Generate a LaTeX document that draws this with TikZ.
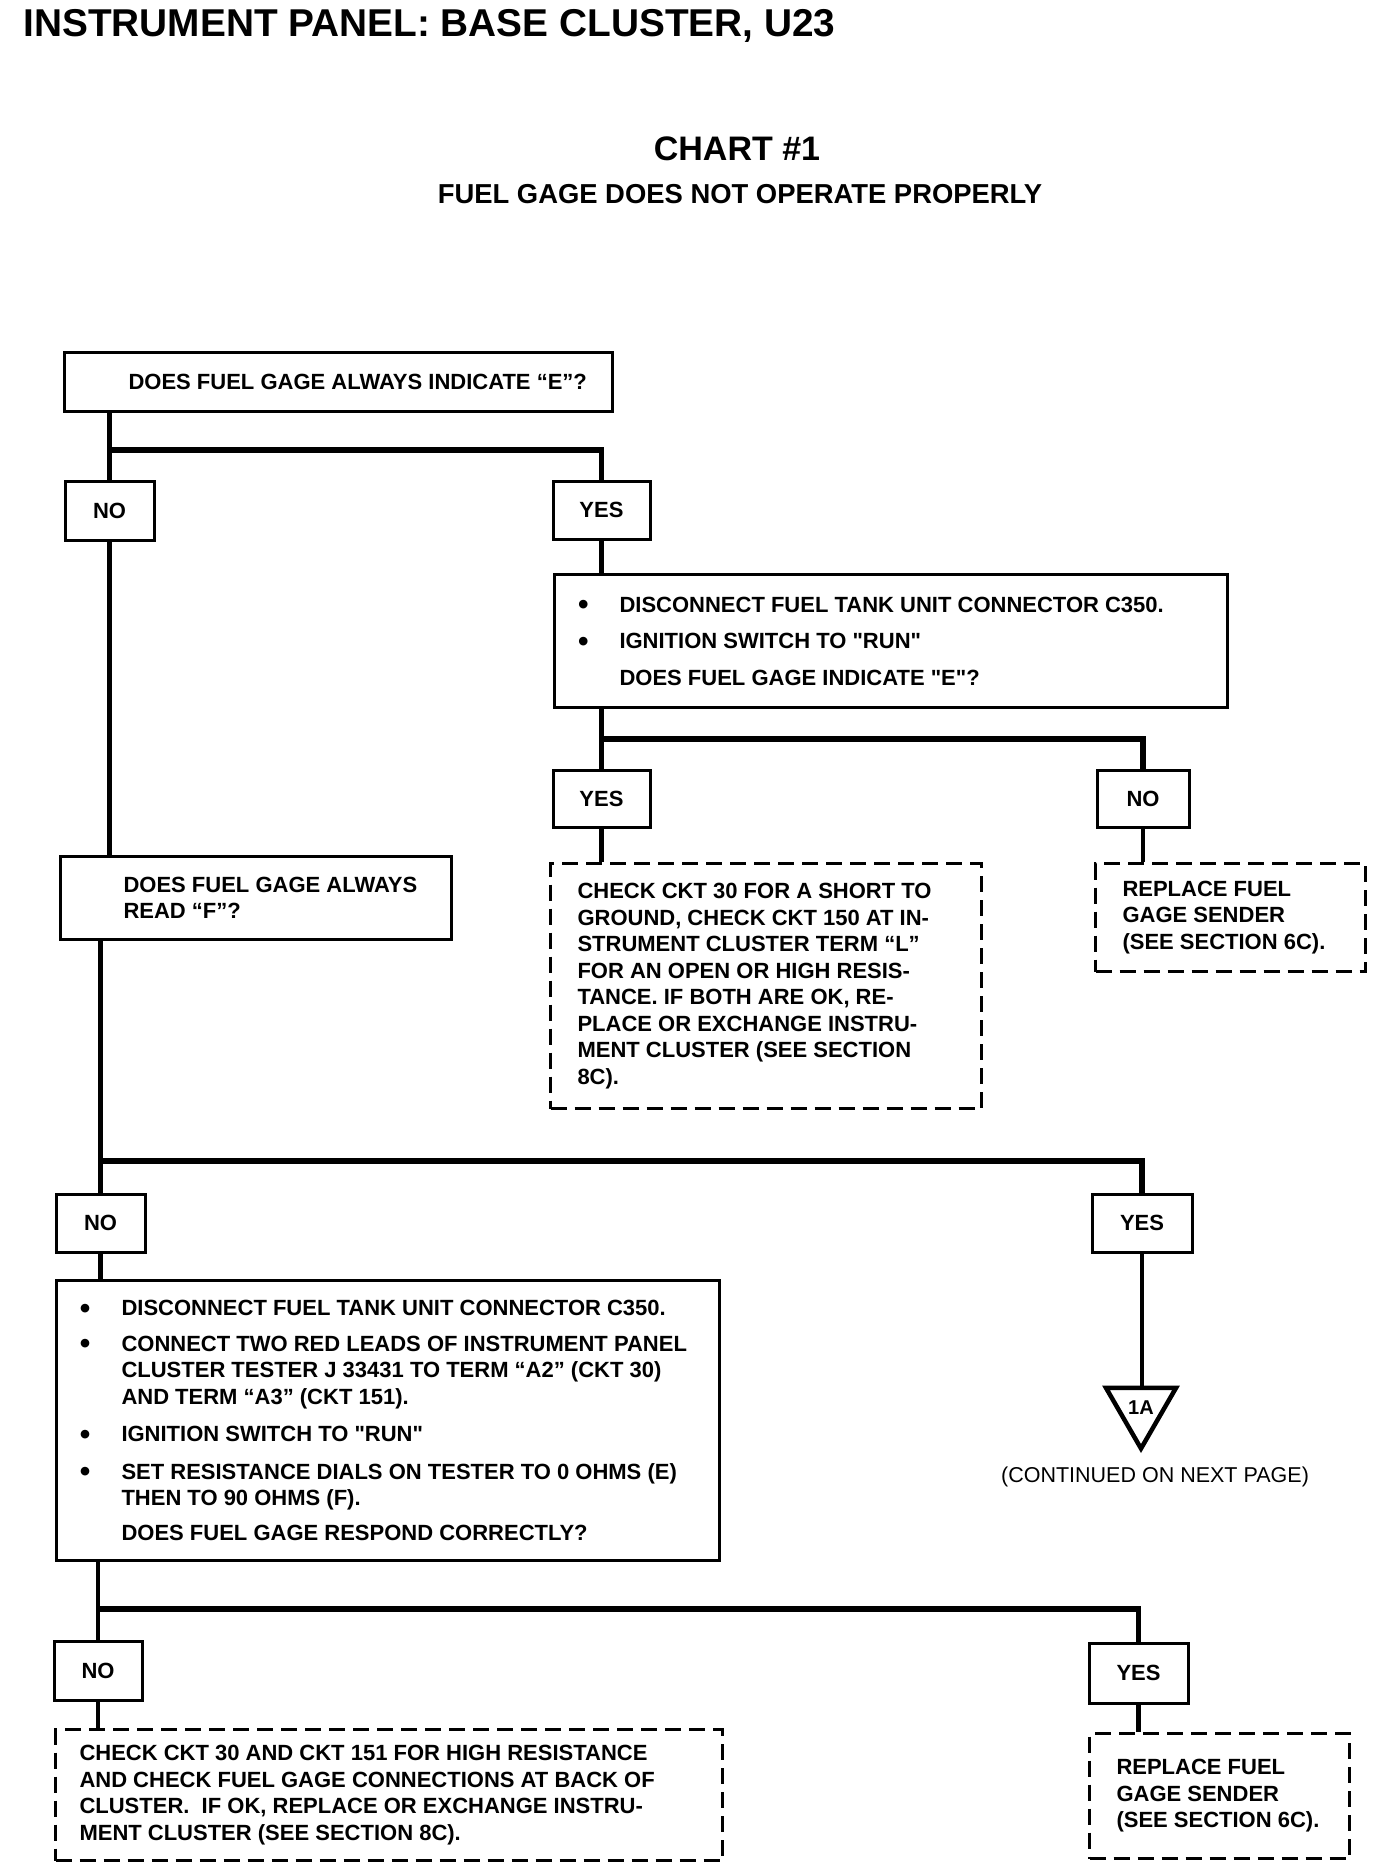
\documentclass[tikz,border=0pt]{standalone}
\usepackage{fontspec}
\setmainfont[Ligatures=TeXOff]{Liberation Sans}
\usetikzlibrary{shapes.geometric}

\newcommand{\boxlines}[3]{\parbox{#1pt}{\raggedright\leftskip=#2pt\relax #3}}
\newcommand{\bul}{\leavevmode\llap{\raisebox{-2.5pt}{\fontsize{30}{0}\selectfont\textbullet}\hspace{31pt}}}

\begin{document}
\begin{tikzpicture}[x=1pt,y=-1pt,
    every node/.style={font=\bfseries\fontsize{22}{26.5}\selectfont},
    qbox/.style={draw,line width=3pt,inner sep=0pt,anchor=north west},
    dbox/.style={qbox,dash pattern=on 16pt off 8pt},
    ans/.style={draw,line width=3pt,inner sep=0pt},
    trunk/.style={line width=4.5pt},
    bar/.style={line width=5.5pt}]

      \useasboundingbox (0,0) rectangle (1376,1870);
      \fill[white] (0,0) rectangle (1376,1870);

      \node[anchor=base west,font=\bfseries\fontsize{38.8}{44}\selectfont] (title) at (20,37)
        {INSTRUMENT PANEL: BASE CLUSTER, U23};
      \node[anchor=base,font=\bfseries\fontsize{34}{40}\selectfont] (chart) at (737,161) {CHART \#1};
      \node[anchor=base,font=\bfseries\fontsize{27.4}{32}\selectfont] (subtitle) at (740,204)
        {FUEL GAGE DOES NOT OPERATE PROPERLY};

      \node[qbox,minimum height=59pt] (q1) at (63,351)
        {\boxlines{548}{64}{DOES FUEL GAGE ALWAYS INDICATE “E”?}};
      \node[qbox,minimum height=83pt] (q2) at (59,855)
        {\boxlines{391}{63}{DOES FUEL GAGE ALWAYS\\READ “F”?}};
      \node[qbox,minimum height=133pt] (q3) at (553,573)
        {\boxlines{673}{65}{\bul DISCONNECT FUEL TANK UNIT CONNECTOR C350.\\[10pt]
          \bul IGNITION SWITCH TO "RUN"\\[10pt]
          DOES FUEL GAGE INDICATE "E"?}};
      \node[qbox,minimum height=280pt] (q4) at (55,1279)
        {\boxlines{663}{65}{\bul DISCONNECT FUEL TANK UNIT CONNECTOR C350.\\[9pt]
          \bul CONNECT TWO RED LEADS OF INSTRUMENT PANEL\\
          CLUSTER TESTER J 33431 TO TERM “A2” (CKT 30)\\
          AND TERM “A3” (CKT 151).\\[11pt]
          \bul IGNITION SWITCH TO "RUN"\\[11pt]
          \bul SET RESISTANCE DIALS ON TESTER TO 0 OHMS (E)\\
          THEN TO 90 OHMS (F).\\[8pt]
          DOES FUEL GAGE RESPOND CORRECTLY?}};

      \node[dbox,minimum height=245pt] (d1) at (549,862)
        {\boxlines{431}{27}{CHECK CKT 30 FOR A SHORT TO\\GROUND, CHECK CKT 150 AT IN-\\
          STRUMENT CLUSTER TERM “L”\\FOR AN OPEN OR HIGH RESIS-\\TANCE. IF BOTH ARE OK, RE-\\
          PLACE OR EXCHANGE INSTRU-\\MENT CLUSTER (SEE SECTION\\8C).}};
      \node[dbox,minimum height=108pt] (d2) at (1094,862)
        {\boxlines{270}{27}{REPLACE FUEL\\GAGE SENDER\\(SEE SECTION 6C).}};
      \node[dbox,minimum height=131pt] (d3) at (54,1728)
        {\boxlines{667}{24}{CHECK CKT 30 AND CKT 151 FOR HIGH RESISTANCE\\
          AND CHECK FUEL GAGE CONNECTIONS AT BACK OF\\
          CLUSTER.\ \ IF OK, REPLACE OR EXCHANGE INSTRU-\\MENT CLUSTER (SEE SECTION 8C).}};
      \node[dbox,minimum height=125pt] (d4) at (1088,1732)
        {\boxlines{260}{27}{REPLACE FUEL\\GAGE SENDER\\(SEE SECTION 6C).}};

      \begin{scope}[every node/.append style={ans}]
        \node[minimum width=89pt,minimum height=59pt]  (no1)  at (109.5,510.5) {NO};
        \node[minimum width=97pt,minimum height=58pt]  (yes1) at (601.5,510)   {YES};
        \node[minimum width=97pt,minimum height=57pt]  (yes2) at (601.5,798.5) {YES};
        \node[minimum width=92pt,minimum height=57pt]  (no2)  at (1143,798.5)  {NO};
        \node[minimum width=89pt,minimum height=58pt]  (no3)  at (100.5,1223)  {NO};
        \node[minimum width=100pt,minimum height=58pt] (yes3) at (1142,1223)   {YES};
        \node[minimum width=88pt,minimum height=59pt]  (no4)  at (98,1670.5)   {NO};
        \node[minimum width=99pt,minimum height=60pt]  (yes4) at (1138.5,1673) {YES};
      \end{scope}

      \node[draw,line width=4.5pt,regular polygon,regular polygon sides=3,shape border rotate=180,
        minimum size=81pt,inner sep=0pt,font=\bfseries\fontsize{20}{24}\selectfont] (c1A) at (1141,1408) {1A};
      \node[anchor=base,font=\fontsize{21.5}{26}\selectfont] (cont) at (1155,1482) {(CONTINUED ON NEXT PAGE)};

      \coordinate (j1) at (0,450);
      \coordinate (j2) at (0,739);
      \coordinate (j3) at (0,1161);
      \coordinate (j4) at (0,1609);

      \draw[trunk] (q1.south -| no1.north) -- (no1.north);
      \draw[bar]   (no1.north |- j1) -| (yes1.north);
      \draw[trunk] (no1.south) -- (no1.south |- q2.north);
      \draw[trunk] (yes1.south) -- (yes1.south |- q3.north);
      \draw[trunk] (q3.south -| yes2.north) -- (yes2.north);
      \draw[bar]   (yes2.north |- j2) -| (no2.north);
      \draw[trunk] (yes2.south) -- (yes2.south |- d1.north);
      \draw[trunk] (no2.south) -- (no2.south |- d2.north);
      \draw[trunk] (q2.south -| no3.north) -- (no3.north);
      \draw[bar]   (no3.north |- j3) -| (yes3.north);
      \draw[trunk] (yes3.south) -- (yes3.south |- c1A.north);
      \draw[trunk] (no3.south) -- (no3.south |- q4.north);
      \draw[trunk] (q4.south -| no4.north) -- (no4.north);
      \draw[bar]   (no4.north |- j4) -| (yes4.north);
      \draw[trunk] (no4.south) -- (no4.south |- d3.north);
      \draw[trunk] (yes4.south) -- (yes4.south |- d4.north);

\end{tikzpicture}
\end{document}
